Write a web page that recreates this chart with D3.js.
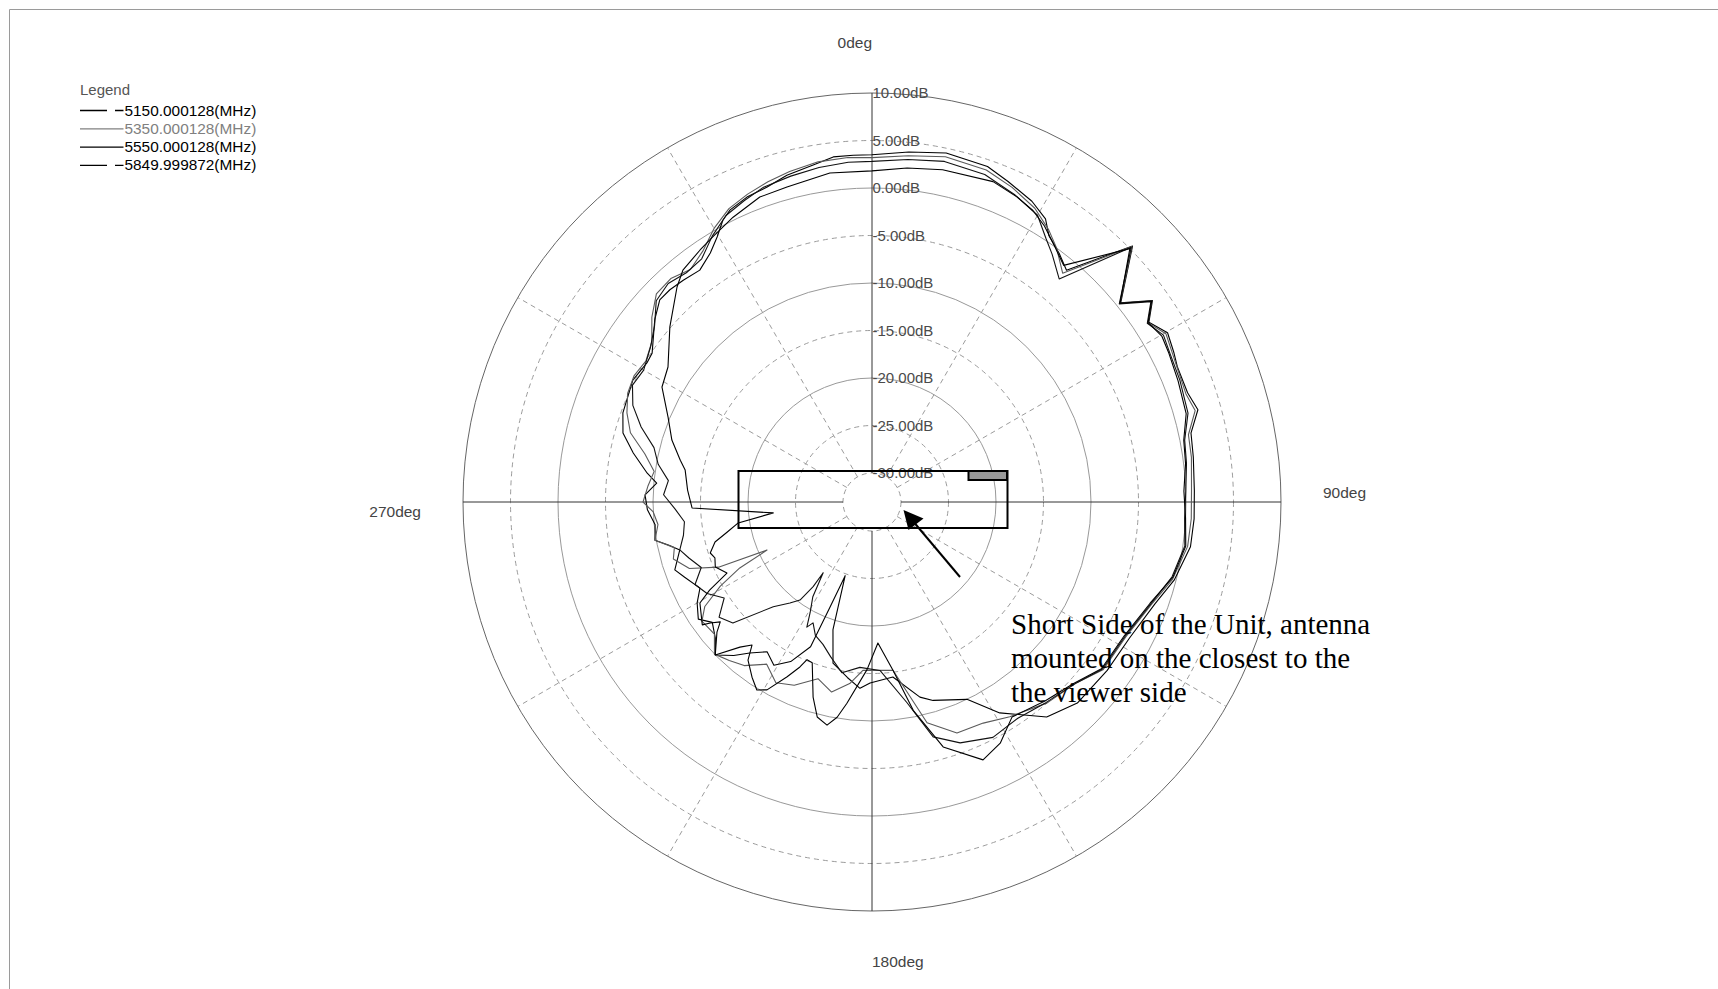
<!DOCTYPE html>
<html>
<head>
<meta charset="utf-8">
<script src="https://cdn.jsdelivr.net/npm/d3@7"></script>
<style>
  html, body { margin: 0; padding: 0; background: #fff; }
  svg { display: block; }
</style>
</head>
<body>
<svg id="chart" width="1718" height="989"></svg>
<script>
// ---- data -------------------------------------------------------------
const seriesNames = ["5150.000128(MHz)", "5350.000128(MHz)", "5550.000128(MHz)", "5849.999872(MHz)"];
const ringLevels = [10, 5, 0, -5, -10, -15, -20, -25, -30];
const ringLabels = ["10.00dB", "5.00dB", "0.00dB", "-5.00dB", "-10.00dB", "-15.00dB", "-20.00dB", "-25.00dB", "-30.00dB"];
const angleLabels = ["0deg", "90deg", "180deg", "270deg"];
const noteLines = ["Short Side of the Unit, antenna", "mounted on the closest to the", "the viewer side"];

// [azimuth in degrees, gain in dB]
const trace5150 = [[0,3.5],[6,4.0],[12,4.5],[19,4.3],[23,3.6],[28,2.8],[31.5,1.9],[33.6,0.6],[37,-0.3],[40,-1.2],[45.5,5.4],[51.3,0.5],[54.3,3.3],[57,1.7],[60.2,2.8],[63.7,2.4],[66.1,2.1],[70.9,2.1],[74.2,2.6],[77.8,1.3],[82,1.1],[88,0.9],[93,0.9],[98,0.8],[104.5,-0.2],[109.8,-1.4],[117.9,-2.4],[125.6,-2.6],[134.4,-2.8],[140.9,-3.9],[148.8,-7.1],[154.3,-10.0],[162.9,-11.2],[166.2,-11.9],[173.2,-14.5],[180.6,-14.0],[183.7,-13.4],[188,-14.4],[193.6,-15.6],[197,-19.0],[200,-24.8],[201.8,-21.1],[203,-16.5],[207,-14.2],[211,-13.0],[215,-13.8],[219,-12.6],[222,-11.3],[225.7,-10.0],[229,-11.2],[233,-12.0],[236,-11.0],[240,-11.8],[243.4,-12.8],[248.1,-11.8],[251,-11.1],[256,-12.2],[258,-11.2],[260,-9.85],[264,-10.1],[268,-9.4],[271.8,-9.15],[275,-10.3],[277.3,-9.2],[281.6,-7.4],[285.5,-5.85],[289.7,-5.2],[297,-4.8],[301.7,-5.2],[304.1,-5.1],[310,-3.2],[313.6,-2.2],[316.4,-2.2],[319.6,-2.4],[323.4,-2.65],[327,-1.8],[329.7,-0.74],[332.1,0.5],[334.1,1.13],[337.7,1.64],[341.6,1.9],[345.4,2.5],[350.1,2.96],[353.6,3.5],[356.9,3.5],[360,3.5]];
const trace5350 = [[0,3.2],[6,3.6],[12,4.1],[19,3.9],[24,3.2],[29,2.3],[33,1.1],[36,0.0],[39.8,-1.7],[45.5,5.3],[51.3,0.4],[54.3,3.2],[57,1.6],[60.2,2.6],[64,2.2],[67,2.0],[71,1.9],[74.2,2.3],[78,1.0],[82,0.9],[88,0.6],[93,0.6],[98,0.5],[104.5,-0.4],[110,-1.7],[118,-2.8],[126,-3.0],[131.4,-4.3],[139,-5.0],[147.3,-6.2],[153.3,-7.0],[159.8,-7.15],[166,-9.1],[172.9,-15.2],[183.1,-15.3],[187,-13.8],[192,-12.6],[197,-13.6],[203,-12.1],[208,-11.5],[213,-12.7],[218,-11.2],[222,-10.6],[226,-10.0],[230,-11.4],[235,-11.2],[238,-12.3],[241,-14.8],[243.5,-17.5],[245.4,-20.9],[247,-15.5],[250,-12.6],[254,-11.3],[257,-11.7],[260,-9.85],[264,-10.4],[267.4,-10.0],[270,-8.95],[274,-9.4],[278,-9.9],[282,-8.6],[286,-6.6],[290,-5.6],[294,-4.9],[298,-4.7],[302,-5.0],[306,-4.4],[310,-2.8],[314,-1.5],[318,-1.4],[322,-2.0],[326,-1.2],[330,0.2],[334,1.3],[338,1.9],[342,2.4],[346,2.8],[351,3.2],[356,3.3],[360,3.2]];
const trace5550 = [[0,2.8],[6,3.2],[12,3.6],[19,3.4],[25,2.6],[30,1.8],[33.4,0.2],[36,-0.8],[40,-2.4],[45.5,5.2],[51.3,0.3],[54.3,3.1],[57,1.5],[60.2,2.3],[63.4,2.0],[68.4,1.8],[74.3,1.5],[78.8,0.5],[83,0.3],[88,0.0],[93,-0.1],[98,0.2],[104,-0.5],[110,-1.8],[118,-2.9],[126,-3.1],[132,-4.4],[139,-5.1],[146,-5.6],[152.8,-5.2],[159.9,-6.05],[165.4,-7.5],[170.1,-11.6],[177.3,-15.3],[184.2,-15.6],[190,-14.8],[195,-16.2],[199,-17.2],[203,-17.8],[206,-18.9],[207.5,-18.2],[209.2,-19.7],[212,-21.3],[214.6,-24.0],[214.8,-22.2],[216.3,-20.25],[219.1,-19.35],[223.3,-17.9],[229,-13.65],[233,-12.9],[237,-14.5],[241,-13.2],[245,-12.5],[249,-13.8],[253,-12.9],[256,-12.2],[260,-12.9],[264,-13.2],[268,-12.3],[272,-11.1],[276,-11.5],[280,-10.2],[284,-9.4],[288,-7.5],[292,-5.9],[296,-5.0],[300,-5.3],[305,-4.6],[309,-3.6],[313,-2.0],[317,-1.6],[321,-2.0],[325,-1.8],[329,-0.4],[333,0.8],[337,1.4],[341,2.0],[346,2.3],[351,2.6],[356,2.8],[360,2.8]];
const trace5850 = [[0,1.8],[6,2.3],[12,2.7],[20.7,3.0],[25.4,2.5],[28.9,2.0],[32,1.2],[35,0.2],[39,-1.0],[45.5,5.0],[51.3,0.4],[54.3,3.2],[57,1.6],[60.2,2.1],[63.4,1.9],[68.4,1.6],[74.3,1.3],[78.8,0.4],[83,0.2],[88,-0.2],[93,0.0],[98,0.3],[104,-0.4],[110,-1.9],[118,-3.0],[126,-3.2],[132,-4.5],[139,-5.3],[146.9,-6.05],[152,-4.3],[156.7,-3.5],[163.8,-6.2],[168.8,-10.7],[172.9,-15.2],[177.6,-18.2],[181.7,-15.4],[187.1,-11.7],[189.2,-10.1],[191.4,-9.1],[194.3,-9.7],[196.8,-11.6],[200.4,-15.0],[202.4,-15.1],[203.6,-14.1],[205.9,-12.6],[209.2,-10.4],[211.5,-9.85],[214.4,-10.7],[218.1,-11.9],[220,-13.4],[222.3,-12.4],[225.7,-10.0],[230,-11.75],[231.7,-12.7],[233.2,-11.8],[234.1,-11.0],[239.6,-12.05],[241.5,-13.6],[243.9,-16.05],[247.5,-15.2],[250.4,-15.5],[252.5,-15.2],[255.7,-16.0],[258.3,-17.5],[261.1,-18.8],[263.7,-22.6],[268.1,-14.1],[273.7,-13.6],[279.7,-13.1],[282.3,-12.4],[287.2,-11.0],[292.6,-9.8],[298.7,-7.85],[303.5,-7.3],[310.9,-4.9],[317.8,-2.5],[320.8,-1.56],[325.7,-0.94],[329,-0.5],[334,0.3],[339.8,1.15],[344.9,1.3],[352.7,1.86],[360,1.8]];

const traces = [trace5150, trace5350, trace5550, trace5850];
const traceColors = ["#000", "#5a5a5a", "#111", "#000"];
const legendLine = ["#000", "#808080", "#000", "#000"];
const legendDash = ["27,8", null, null, "27,8"];
const legendText = ["#000", "#808080", "#000", "#000"];

// ---- layout -----------------------------------------------------------
const cx = 872, cy = 502;
const svg = d3.select("#chart");

// frame of the plot window (left and top edges visible)
svg.append("path")
  .attr("d", "M9.5,995 L9.5,9.5 L1730,9.5")
  .attr("fill", "none").attr("stroke", "#9a9a9a").attr("stroke-width", 1);

const r = d3.scaleLinear().domain([-30, 10]).range([29, 409]);
const R = r(10);
const rad = d => d * Math.PI / 180;

const g = svg.append("g").attr("transform", `translate(${cx},${cy})`);

// rings: solid every 10 dB, dashed in between
const solidRing = v => v === 10 || v === 0 || v === -10 || v === -20;
g.selectAll("circle.ring").data(ringLevels).enter().append("circle")
  .attr("class", "ring")
  .attr("r", d => r(d))
  .attr("fill", "none")
  .attr("stroke", d => d === 10 ? "#666" : (solidRing(d) ? "#999" : "#9c9c9c"))
  .attr("stroke-width", 1)
  .attr("stroke-dasharray", d => solidRing(d) ? null : "5,4");

// spokes every 30 degrees
const spokeAngles = d3.range(0, 360, 30);
g.selectAll("line.spoke").data(spokeAngles).enter().append("line")
  .attr("class", "spoke")
  .attr("x1", d => r(-30) * Math.sin(rad(d)))
  .attr("y1", d => -r(-30) * Math.cos(rad(d)))
  .attr("x2", d => R * Math.sin(rad(d)))
  .attr("y2", d => -R * Math.cos(rad(d)))
  .attr("stroke", d => d % 90 === 0 ? "#333" : "#9c9c9c")
  .attr("stroke-width", 1)
  .attr("stroke-dasharray", d => d % 90 === 0 ? null : "5,4");

// ring labels along the 0deg axis
g.selectAll("text.rl").data(ringLevels).enter().append("text")
  .attr("class", "rl")
  .attr("x", 0.5)
  .attr("y", d => -r(d) + 5.4)
  .attr("font-family", "Liberation Sans, Arial, sans-serif")
  .attr("font-size", 15)
  .attr("fill", "#4a4a4a")
  .text((d, i) => ringLabels[i]);

// azimuth labels
const angleLabelPos = [
  { x: 0, y: -R - 45, anchor: "end" },
  { x: R + 42, y: -4.5, anchor: "start" },
  { x: 0, y: R + 56, anchor: "start" },
  { x: -R - 42, y: 15, anchor: "end" }
];
g.selectAll("text.al").data(angleLabels).enter().append("text")
  .attr("class", "al")
  .attr("x", (d, i) => angleLabelPos[i].x)
  .attr("y", (d, i) => angleLabelPos[i].y)
  .attr("text-anchor", (d, i) => angleLabelPos[i].anchor)
  .attr("font-family", "Liberation Sans, Arial, sans-serif")
  .attr("font-size", 15.5)
  .attr("fill", "#444")
  .text(d => d);

// measured patterns
const line = d3.lineRadial()
  .angle(d => rad(d[0]))
  .radius(d => r(d[1]));
g.selectAll("path.trace").data(traces).enter().append("path")
  .attr("class", "trace")
  .attr("d", line)
  .attr("fill", "none")
  .attr("stroke", (d, i) => traceColors[i])
  .attr("stroke-width", 1.1)
  .attr("stroke-linejoin", "round");

// unit outline with antenna marker
svg.append("rect")
  .attr("x", 738.5).attr("y", 471).attr("width", 269).attr("height", 57)
  .attr("fill", "none").attr("stroke", "#000").attr("stroke-width", 2);
svg.append("rect")
  .attr("x", 968.5).attr("y", 471).attr("width", 38.5).attr("height", 9)
  .attr("fill", "#999").attr("stroke", "#000").attr("stroke-width", 2);

// arrow pointing at the unit
svg.append("line")
  .attr("x1", 960).attr("y1", 577).attr("x2", 912).attr("y2", 520)
  .attr("stroke", "#000").attr("stroke-width", 2);
svg.append("path")
  .attr("d", "M903.5,510 L923.5,518.5 L908.5,530 Z")
  .attr("fill", "#000");

// annotation
svg.append("text")
  .attr("font-family", "Liberation Serif, Times New Roman, serif")
  .attr("font-size", 29)
  .attr("fill", "#000")
  .selectAll("tspan").data(noteLines).enter().append("tspan")
  .attr("x", 1011)
  .attr("y", (d, i) => 634 + i * 34)
  .text(d => d);

// legend
const legend = svg.append("g");
legend.append("text")
  .attr("x", 80).attr("y", 95)
  .attr("font-family", "Liberation Sans, Arial, sans-serif")
  .attr("font-size", 15)
  .attr("fill", "#555")
  .text("Legend");
const rows = legend.selectAll("g.row").data(seriesNames).enter().append("g")
  .attr("class", "row")
  .attr("transform", (d, i) => `translate(0,${115.5 + i * 18.3})`);
rows.append("line")
  .attr("x1", 80).attr("x2", 123.5).attr("y1", -5).attr("y2", -5)
  .attr("stroke", (d, i) => legendLine[i])
  .attr("stroke-width", 1.3)
  .attr("stroke-dasharray", (d, i) => legendDash[i]);
rows.append("text")
  .attr("x", 124.5).attr("y", 0)
  .attr("font-family", "Liberation Sans, Arial, sans-serif")
  .attr("font-size", 15.4)
  .attr("fill", (d, i) => legendText[i])
  .text(d => d);
</script>
</body>
</html>
